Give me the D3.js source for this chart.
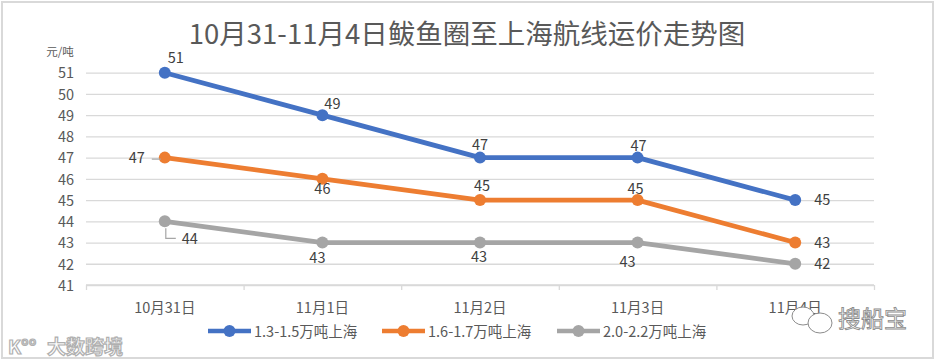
<!DOCTYPE html>
<html><head><meta charset="utf-8">
<script src="https://cdn.jsdelivr.net/npm/d3@7/dist/d3.min.js"></script>
<style>
html,body{margin:0;padding:0;background:#fff;}
text{font-family:"Noto Sans CJK SC","Noto Sans",sans-serif;}
</style></head>
<body>
<svg id="c" width="937" height="361"></svg>
<script>
const categories = ["10月31日","11月1日","11月2日","11月3日","11月4日"];
const seriesNames = ["1.3-1.5万吨上海","1.6-1.7万吨上海","2.0-2.2万吨上海"];
const blueValues = [51,49,47,47,45];
const orangeValues = [47,46,45,45,43];
const grayValues = [44,43,43,43,42];
const yTicks = [41,42,43,44,45,46,47,48,49,50,51];
const title = "10月31-11月4日鲅鱼圈至上海航线运价走势图";
const unitLabel = "元/吨";

const colors = ["#4472C4","#ED7D31","#A5A5A5"];
// label placement per point: [dx, dy, anchor]
const placements = [
  [[11,-10,"middle"],[10,-6,"middle"],[0,-8,"middle"],[1,-7,"middle"],[19,5,"start"]],
  [[-20,5,"end"],[0,15,"middle"],[2,-9,"middle"],[-2,-6,"middle"],[19,5,"start"]],
  [[17,23,"start"],[-5,20,"middle"],[-1,19,"middle"],[-10,24,"middle"],[19,5,"start"]]
];
const series = [blueValues, orangeValues, grayValues];

const svg = d3.select("#c");
svg.append("rect").attr("x",2).attr("y",2).attr("width",931).attr("height",356)
  .attr("fill","#fff").attr("stroke","#D9D9D9").attr("stroke-width",2);

const pL=86, pR=874, pT=72.7, pB=285;
const x = d3.scaleBand().domain(categories).range([pL,pR]);
const y = d3.scaleLinear().domain([41,51]).range([pB,pT]);
const cx = d => x(d) + x.bandwidth()/2;

svg.append("text").attr("x",467).attr("y",44).attr("text-anchor","middle")
  .attr("font-size",27.5).attr("fill","#595959").text(title);
svg.append("text").attr("x",60).attr("y",56).attr("text-anchor","middle")
  .attr("font-size",11.5).attr("fill","#595959").text(unitLabel);

const yAxis = d3.axisLeft(y).tickValues(yTicks).tickSize(-(pR-pL)).tickFormat(d3.format("d")).tickPadding(12);
const gy = svg.append("g").attr("transform",`translate(${pL},0)`).call(yAxis);
gy.select(".domain").remove();
gy.selectAll(".tick line").attr("stroke","#D9D9D9").attr("stroke-width",1.3);
gy.selectAll(".tick text").attr("font-size",14.5).attr("fill","#595959")
  .attr("font-family",'"Noto Sans CJK SC",sans-serif').attr("dy","0.36em");

const xAxis = d3.axisBottom(d3.scaleLinear().domain([0,5]).range([pL,pR]))
  .tickValues([0,1,2,3,4,5]).tickSize(5).tickFormat("");
const gx = svg.append("g").attr("transform",`translate(0,${pB})`).call(xAxis);
gx.select(".domain").attr("stroke","#D9D9D9").attr("stroke-width",1.3).attr("d",`M${pL},0H${pR}`);
gx.selectAll(".tick line").attr("stroke","#D9D9D9").attr("stroke-width",1.3);
svg.append("g").selectAll("text").data(categories).join("text")
  .attr("x",d=>cx(d)).attr("y",313).attr("text-anchor","middle")
  .attr("font-size",14.5).attr("fill","#595959").text(d=>d);

const line = d3.line().x((d,i)=>cx(categories[i])).y(d=>y(d));
series.forEach((vals,si)=>{
  const g = svg.append("g");
  g.append("path").datum(vals).attr("d",line).attr("fill","none")
    .attr("stroke",colors[si]).attr("stroke-width",4.8).attr("stroke-linejoin","round");
  g.selectAll("circle").data(vals).join("circle")
    .attr("cx",(d,i)=>cx(categories[i])).attr("cy",d=>y(d)).attr("r",6).attr("fill",colors[si]);
});

svg.append("path").attr("d",`M${cx(categories[0])-13},${y(orangeValues[0])+1.5}H${cx(categories[0])-4}`)
  .attr("stroke","#A6A6A6").attr("stroke-width",1.2).attr("fill","none");
svg.append("path").attr("d",`M${cx(categories[0])+1},${y(grayValues[0])+7}V${y(grayValues[0])+17}H${cx(categories[0])+11}`)
  .attr("stroke","#A6A6A6").attr("stroke-width",1.2).attr("fill","none");

series.forEach((vals,si)=>{
  svg.append("g").selectAll("text").data(vals).join("text")
    .attr("x",(d,i)=>cx(categories[i])+placements[si][i][0])
    .attr("y",(d,i)=>y(d)+placements[si][i][1])
    .attr("text-anchor",(d,i)=>placements[si][i][2])
    .attr("font-size",14.5).attr("fill","#404040").text(d=>d);
});

const legendX = [208,382,557];
const lg = svg.append("g");
seriesNames.forEach((n,i)=>{
  const lx = legendX[i];
  lg.append("line").attr("x1",lx).attr("x2",lx+43).attr("y1",331).attr("y2",331)
    .attr("stroke",colors[i]).attr("stroke-width",4.5);
  lg.append("circle").attr("cx",lx+21.5).attr("cy",331).attr("r",6).attr("fill",colors[i]);
  lg.append("text").attr("x",lx+46).attr("y",337).attr("font-size",14.5).attr("fill","#595959").text(n);
});

const wm = svg.append("g");
wm.append("ellipse").attr("cx",803).attr("cy",316).attr("rx",11).attr("ry",9).attr("fill","#fff").attr("stroke","#8c8c8c").attr("stroke-width",1);
wm.append("ellipse").attr("cx",820).attr("cy",323).attr("rx",12).attr("ry",10).attr("fill","#fff").attr("stroke","#8c8c8c").attr("stroke-width",1);
wm.append("text").attr("x",838).attr("y",327).attr("font-size",23).attr("fill","#fff")
  .attr("stroke","#8c8c8c").attr("stroke-width",0.9).text("搜船宝");
wm.append("text").attr("x",47).attr("y",354).attr("font-size",19).attr("fill","#fff")
  .attr("stroke","#b0b0b0").attr("stroke-width",1.2).attr("font-weight","bold").text("大数跨境");
wm.append("text").attr("x",8).attr("y",354).attr("font-size",19).attr("fill","#fff")
  .attr("stroke","#b0b0b0").attr("stroke-width",1.2).attr("font-weight","bold").text("K°°");
</script>
</body></html>
